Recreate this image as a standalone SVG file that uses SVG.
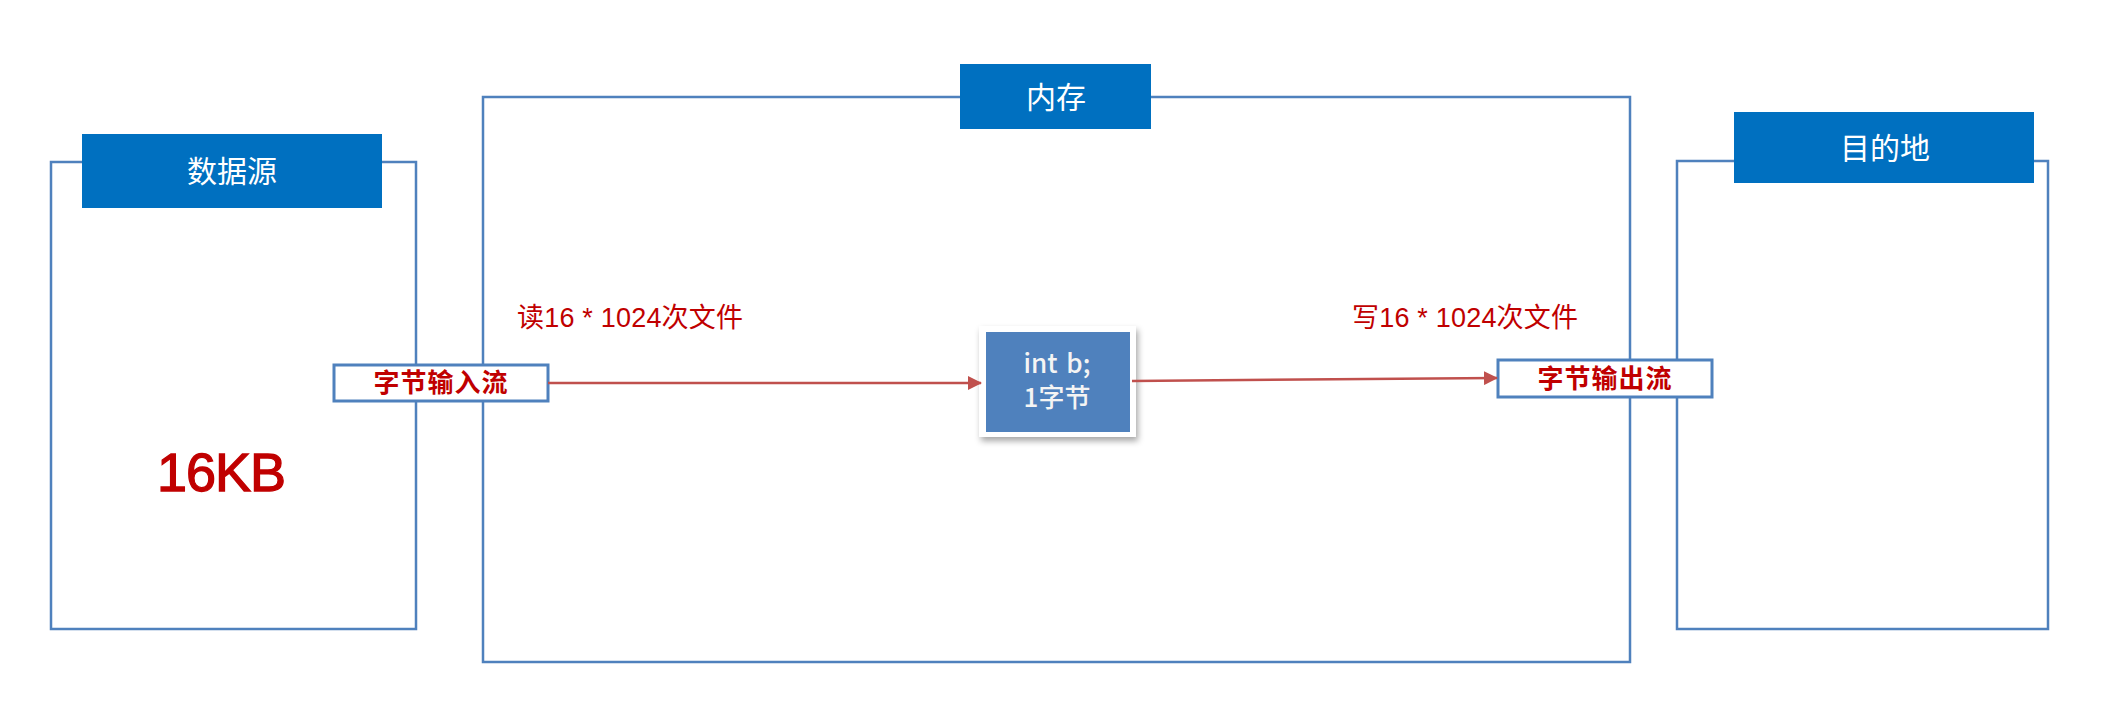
<svg xmlns="http://www.w3.org/2000/svg" width="2110" height="714" viewBox="0 0 2110 714">
<style>
.frame{fill:none;stroke:#4f81bd;stroke-width:2.5}
.hdr{fill:#0070c0}
.hdrtxt{fill:#ffffff;font-family:"Noto Sans CJK SC","Noto Sans",sans-serif;font-size:30px;text-anchor:middle}
.red{fill:#c00000;font-family:"Liberation Sans","Noto Sans CJK SC",sans-serif}
.stream{fill:#ffffff;stroke:#4f81bd;stroke-width:3}
.streamtxt{fill:#c00000;font-family:"Noto Sans CJK SC",sans-serif;font-size:26px;font-weight:bold;text-anchor:middle;letter-spacing:1px}
.conn{stroke:#c0504d;stroke-width:2.5;fill:none}
.nodetxt{fill:#f4f4f4;font-family:"Noto Sans CJK SC","Noto Sans",sans-serif;font-size:26px;font-weight:500;text-anchor:middle}
</style>
<defs>
<marker id="arr" markerUnits="userSpaceOnUse" markerWidth="14" markerHeight="14" refX="13" refY="7" orient="auto">
<path d="M0,0 L14,7 L0,14 Z" fill="#c0504d"/>
</marker>
<filter id="sh" x="-20%" y="-20%" width="150%" height="150%">
<feDropShadow dx="2" dy="4" stdDeviation="3" flood-color="#000" flood-opacity="0.35"/>
</filter>
</defs>
<rect width="2110" height="714" fill="#ffffff"/>
<g id="memory">
<rect class="frame" x="483" y="97" width="1147" height="565"/>
<rect class="hdr" x="960" y="64" width="191" height="65"/>
<text class="hdrtxt" x="1056" y="108">内存</text>
</g>
<g id="source">
<rect class="frame" x="51" y="162" width="365" height="467"/>
<rect class="hdr" x="82" y="134" width="300" height="74"/>
<text class="hdrtxt" x="232" y="182">数据源</text>
<text class="red" x="157" y="491" font-size="54" stroke="#c00000" stroke-width="1.3" textLength="129">16KB</text>
</g>
<g id="dest">
<rect class="frame" x="1677" y="161" width="371" height="468"/>
<rect class="hdr" x="1734" y="112" width="300" height="71"/>
<text class="hdrtxt" x="1885" y="159">目的地</text>
</g>
<g id="input-stream">
<rect class="stream" x="334" y="365" width="214" height="36"/>
<text class="streamtxt" x="441" y="392">字节输入流</text>
</g>
<g id="output-stream">
<rect class="stream" x="1498" y="360" width="214" height="37"/>
<text class="streamtxt" x="1605" y="388">字节输出流</text>
</g>
<g id="var-node">
<rect x="979" y="326" width="157" height="111" fill="#ffffff" filter="url(#sh)"/>
<rect x="986" y="332" width="144" height="100" fill="#4f81bd"/>
<text class="nodetxt" x="1057" y="373" word-spacing="3">int b;</text>
<text class="nodetxt" x="1057" y="407">1字节</text>
</g>
<g id="connectors">
<line class="conn" x1="548" y1="383" x2="981" y2="383" marker-end="url(#arr)"/>
<line class="conn" x1="1132" y1="381" x2="1497" y2="378" marker-end="url(#arr)"/>
<text class="red" x="517" y="327" font-size="27" textLength="226">读16 * 1024次文件</text>
<text class="red" x="1352" y="327" font-size="27" textLength="226">写16 * 1024次文件</text>
</g>
</svg>
